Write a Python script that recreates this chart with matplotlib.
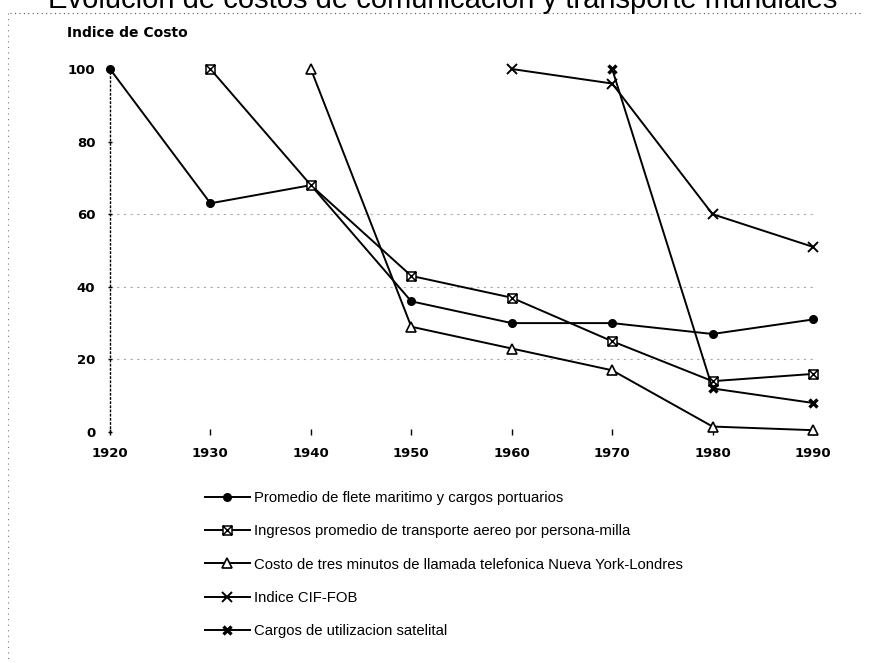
import numpy as np
import matplotlib.pyplot as plt
from matplotlib.path import Path
from matplotlib.lines import Line2D

plt.rcParams['font.family'] = ['Liberation Sans', 'DejaVu Sans']

years = [1920, 1930, 1940, 1950, 1960, 1970, 1980, 1990]

flete_years = [1920, 1930, 1940, 1950, 1960, 1970, 1980, 1990]
flete = [100, 63, 68, 36, 30, 30, 27, 31]

aereo_years = [1930, 1940, 1950, 1960, 1970, 1980, 1990]
aereo = [100, 68, 43, 37, 25, 14, 16]

telefono_years = [1940, 1950, 1960, 1970, 1980, 1990]
telefono = [100, 29, 23, 17, 1.5, 0.5]

cif_years = [1960, 1970, 1980, 1990]
cif = [100, 96, 60, 51]

satelite_years = [1970, 1980, 1990]
satelite = [100, 12, 8]

labels = [
    "Promedio de flete maritimo y cargos portuarios",
    "Ingresos promedio de transporte aereo por persona-milla",
    "Costo de tres minutos de llamada telefonica Nueva York-Londres",
    "Indice CIF-FOB",
    "Cargos de utilizacion satelital",
]

yticks = [0, 20, 40, 60, 80, 100]

# square with a cross inside
boxx = Path([(-1, -1), (1, -1), (1, 1), (-1, 1), (-1, -1),
             (-1, -1), (1, 1), (-1, 1), (1, -1)],
            [Path.MOVETO, Path.LINETO, Path.LINETO, Path.LINETO, Path.CLOSEPOLY,
             Path.MOVETO, Path.LINETO, Path.MOVETO, Path.LINETO])

fig = plt.figure(figsize=(8.7, 6.63), dpi=100)
W, H = 870, 663
ax = fig.add_axes([110 / W, (H - 432) / H, 703 / W, 363 / H])

lw = 1.4
ax.plot(flete_years, flete, color='black', lw=lw, marker='o', ms=5.5,
        clip_on=False, label=labels[0], zorder=3)
ax.plot(aereo_years, aereo, color='black', lw=lw, marker=boxx, ms=6.5,
        mfc='white', mec='black', mew=1.1, clip_on=False, label=labels[1], zorder=3)
ax.plot(telefono_years, telefono, color='black', lw=lw, marker='^', ms=7,
        mfc='white', mec='black', mew=1.2, clip_on=False, label=labels[2], zorder=3)
ax.plot(cif_years, cif, color='black', lw=lw, marker='x', ms=7, mew=1.4,
        clip_on=False, label=labels[3], zorder=3)
ax.plot(satelite_years, satelite, color='black', lw=lw, marker='x', ms=6, mew=2.4,
        clip_on=False, label=labels[4], zorder=3)

ax.set_xlim(1920, 1990)
ax.set_ylim(0, 100)
ax.set_xticks(years)
ax.set_yticks(yticks)

for v in [20, 40, 60]:
    ax.axhline(v, color='#aaaaaa', lw=0.8, ls=(0, (2, 4)), zorder=1)

for s in ['top', 'right', 'bottom']:
    ax.spines[s].set_visible(False)
ax.spines['left'].set_linestyle((0, (1, 2)))
ax.spines['left'].set_linewidth(1.0)

ax.tick_params(axis='x', direction='inout', length=4, width=1, pad=9)
ax.tick_params(axis='y', direction='inout', length=3, width=1, pad=9)
for t in ax.get_xticklabels() + ax.get_yticklabels():
    t.set_fontweight('bold')
    t.set_family(['DejaVu Sans'])
    t.set_fontsize(9.5)

fig.text(67 / W, 1 - 33 / H, "Indice de Costo", fontsize=10, fontweight='bold',
         family=['DejaVu Sans'], va='center', ha='left')

# title, cut by the top edge of the scan
fig.text(443 / W, 1 - 8 / H,
         "Evolución de costos de comunicación y transporte mundiales",
         fontsize=21, ha='center', va='baseline')

# dotted frame from the scan
fig.add_artist(Line2D([10 / W, 862 / W], [1 - 13 / H, 1 - 13 / H],
                      transform=fig.transFigure, color='#555555', lw=0.8,
                      ls=(0, (1, 3))))
fig.add_artist(Line2D([8 / W, 8 / W], [1 - 13 / H, 0],
                      transform=fig.transFigure, color='#777777', lw=0.8,
                      ls=(0, (1, 4))))

leg = ax.legend(loc='upper left', bbox_to_anchor=(205 / W, 1 - 491 / H),
                bbox_transform=fig.transFigure, frameon=False, fontsize=10.7,
                handlelength=3.0, handletextpad=0.3, labelspacing=1.3,
                borderaxespad=0, borderpad=0)

fig.savefig("out.png", dpi=100)
